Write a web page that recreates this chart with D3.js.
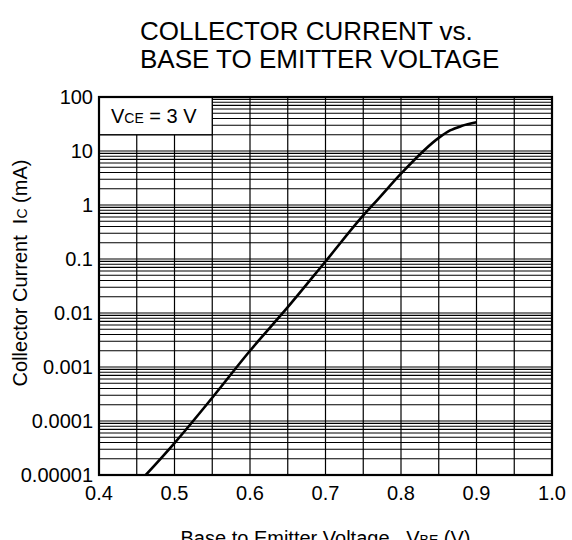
<!DOCTYPE html>
<html><head><meta charset="utf-8">
<script src="https://cdn.jsdelivr.net/npm/d3@7"></script>
<style>
html,body{margin:0;padding:0;background:#fff;}
text{font-family:"Liberation Sans",Arial,Helvetica,sans-serif;fill:#000;}
</style></head>
<body>
<svg id="chart" width="572" height="540"></svg>
<script>
// ---- data ----
const vbe = [0.462, 0.5, 0.55, 0.6, 0.65, 0.7, 0.75, 0.77, 0.8, 0.85, 0.865, 0.88, 0.9];
const ic  = [1e-5, 3.9e-5, 2.7e-4, 2.0e-3, 0.0128, 0.09, 0.64, 1.3, 3.8, 17.5, 24, 29, 34];
const xTicks = [0.4, 0.5, 0.6, 0.7, 0.8, 0.9, 1.0];
const xTickLabels = ["0.4", "0.5", "0.6", "0.7", "0.8", "0.9", "1.0"];
const yTicks = [100, 10, 1, 0.1, 0.01, 0.001, 0.0001, 0.00001];
const yTickLabels = ["100", "10", "1", "0.1", "0.01", "0.001", "0.0001", "0.00001"];
const xGrid = [0.45, 0.5, 0.55, 0.6, 0.65, 0.7, 0.75, 0.8, 0.85, 0.9, 0.95];

const svg = d3.select("#chart");
const L = 99, R = 552, T = 97, B = 475;
const x = d3.scaleLinear().domain([0.4, 1.0]).range([L, R]);
const y = d3.scaleLog().domain([1e-5, 100]).range([B, T]);

// horizontal grid (log minors)
const hLines = [];
for (let e = -5; e < 2; e++) {
  for (let m = 1; m <= 9; m++) {
    const v = m * Math.pow(10, e);
    if (v > 1e-5 && v < 100) hLines.push(v);
  }
}
const g = svg.append("g");
g.selectAll("line.h").data(hLines).join("line")
  .attr("x1", L).attr("x2", R)
  .attr("y1", d => y(d)).attr("y2", d => y(d))
  .attr("stroke", "#000").attr("stroke-width", 1.2);
g.selectAll("line.v").data(xGrid).join("line")
  .attr("x1", d => x(d)).attr("x2", d => x(d))
  .attr("y1", T).attr("y2", B)
  .attr("stroke", "#000").attr("stroke-width", 1.2);

// legend box
svg.append("rect")
  .attr("x", x(0.4)).attr("y", y(100))
  .attr("width", x(0.55) - x(0.4)).attr("height", y(20) - y(100))
  .attr("fill", "#fff").attr("stroke", "#000").attr("stroke-width", 1.3);
const lt = svg.append("text").attr("x", 111).attr("y", 123).attr("font-size", 20);
lt.append("tspan").text("V");
lt.append("tspan").attr("font-size", 14).text("CE");
lt.append("tspan").text(" = 3 V");

// curve
const pts = vbe.map((v, i) => [v, ic[i]]);
svg.append("path").datum(pts)
  .attr("fill", "none").attr("stroke", "#000").attr("stroke-width", 2.6)
  .attr("stroke-linejoin", "round")
  .attr("d", d3.line().x(d => x(d[0])).y(d => y(d[1])).curve(d3.curveMonotoneX));

// border
svg.append("rect").attr("x", L).attr("y", T).attr("width", R - L).attr("height", B - T)
  .attr("fill", "none").attr("stroke", "#000").attr("stroke-width", 2.2);

// axes labels
svg.selectAll("text.yt").data(yTicks).join("text")
  .attr("x", 93).attr("y", d => y(d) + 7)
  .attr("text-anchor", "end").attr("font-size", 20)
  .text((d, i) => yTickLabels[i]);
svg.selectAll("text.xt").data(xTicks).join("text")
  .attr("x", d => x(d)).attr("y", 500)
  .attr("text-anchor", "middle").attr("font-size", 20)
  .text((d, i) => xTickLabels[i]);

// titles
svg.append("text").attr("x", 140).attr("y", 40).attr("font-size", 26).text("COLLECTOR CURRENT vs.");
svg.append("text").attr("x", 140).attr("y", 68).attr("font-size", 26).text("BASE TO EMITTER VOLTAGE");

const xt = svg.append("text").attr("x", (L + R) / 2).attr("y", 545)
  .attr("text-anchor", "middle").attr("font-size", 20);
xt.append("tspan").text("Base to Emitter Voltage,\u00a0 V");
xt.append("tspan").attr("font-size", 14).text("BE");
xt.append("tspan").text(" (V)");

const yt = svg.append("text").attr("transform", "translate(27,273) rotate(-90)")
  .attr("text-anchor", "middle").attr("font-size", 20);
yt.append("tspan").text("Collector Current\u00a0 I");
yt.append("tspan").attr("font-size", 14).text("C");
yt.append("tspan").text(" (mA)");
</script>
</body></html>
